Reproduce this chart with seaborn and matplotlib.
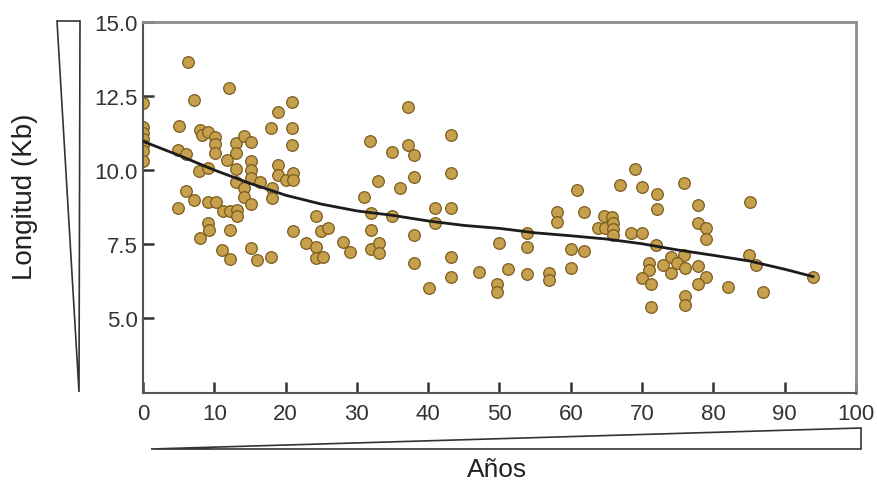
import matplotlib
matplotlib.use("Agg")
import matplotlib.pyplot as plt
import seaborn as sns
import pandas as pd
from matplotlib.patches import Polygon

# ---- data ----
years = [
    0, 0, 0, 0, 0, 0, 0,
    5.0, 4.9, 6.1, 6.1, 7.2, 4.9, 6.3, 7.1, 12.1,
    8.0, 8.3, 9.1, 10.1, 10.1, 10.1, 7.9, 9.1,
    11.8, 13.1, 14.2, 15.2, 13.1, 13.1, 15.2, 15.2, 15.2, 16.4, 13.1, 14.2, 14.2, 15.2,
    9.1, 10.3, 11.2, 12.2, 13.2, 13.2, 9.1, 9.2, 7.95, 12.2,
    11.1, 12.2, 15.2, 16.0, 18.0,
    18.0, 19.0, 20.9, 20.9, 20.9, 19.0, 19.0, 20.1, 21.0, 21.0, 18.1, 18.1, 21.0,
    22.8, 24.2, 24.2, 24.2, 25.2, 24.9, 26.0, 28.1, 29.1,
    31.9, 33.0, 31.0, 32.0, 32.0, 32.0, 33.1, 33.1,
    37.1, 43.2, 34.9, 37.1, 38.0, 36.0, 38.0, 43.2, 34.9, 41.0, 43.2, 41.0, 38.0, 38.0,
    43.2, 43.2, 40.1, 47.1, 49.6, 49.6, 50.0,
    51.2, 53.9, 53.9, 53.9, 56.9, 56.9, 58.1, 58.1, 60.0, 60.0, 60.9, 61.9, 61.9,
    63.8, 64.7, 65.8, 64.8, 65.9, 65.9, 65.9, 66.9,
    68.5, 70.0, 69.0, 70.0, 72.1, 72.1, 75.9, 77.9, 77.9, 78.9, 78.9,
    72.0, 74.0, 75.9, 70.9, 70.9, 72.9, 74.0, 74.9, 76.0, 77.9, 79.0, 70.0, 71.2, 77.9,
    82.0, 71.2, 76.0, 76.0,
    85.1, 85.0, 86.0, 87.0, 94.0,
]
lengths = [
    12.25, 11.45, 11.25, 11.05, 10.85, 10.65, 10.3,
    11.5, 10.68, 10.53, 9.29, 8.99, 8.73, 13.66, 12.38, 12.76,
    11.35, 11.2, 11.27, 11.1, 10.87, 10.56, 9.97, 10.08,
    10.34, 10.9, 11.16, 10.96, 10.56, 10.03, 10.3, 10.0, 9.72, 9.6, 9.6, 9.38, 9.1, 8.87,
    8.93, 8.93, 8.61, 8.61, 8.65, 8.46, 8.2, 7.97, 7.71, 7.97,
    7.3, 7.0, 7.38, 6.96, 7.07,
    11.43, 11.95, 12.29, 11.43, 10.84, 10.17, 9.83, 9.66, 9.89, 9.66, 9.38, 9.04, 7.94,
    7.52, 8.46, 7.41, 7.02, 7.07, 7.94, 8.05, 7.58, 7.22,
    10.98, 9.63, 9.1, 8.54, 7.97, 7.35, 7.52, 7.19,
    12.14, 11.2, 10.62, 10.84, 10.51, 9.38, 9.77, 9.89, 8.46, 8.71, 8.73, 8.22, 7.8, 6.85,
    7.07, 6.4, 6.0, 6.54, 6.14, 5.87, 7.54,
    6.66, 7.86, 7.41, 6.48, 6.52, 6.27, 8.59, 8.25, 7.35, 6.7, 9.32, 8.59, 7.26,
    8.03, 8.45, 8.4, 8.05, 8.2, 8.02, 7.8, 9.49,
    7.86, 7.86, 10.03, 9.44, 9.18, 8.68, 9.55, 8.82, 8.2, 8.05, 7.67,
    7.47, 7.07, 7.13, 6.85, 6.62, 6.79, 6.51, 6.85, 6.7, 6.77, 6.4, 6.36, 6.14, 6.14,
    6.06, 5.39, 5.75, 5.44,
    8.93, 7.13, 6.79, 5.87, 6.4,
]
trend_x = [0, 5, 10, 15, 20, 25, 30, 35, 40, 45, 50, 55, 60, 65, 70, 75, 80, 85, 90, 94]
trend_y = [10.97, 10.5, 10.0, 9.55, 9.15, 8.85, 8.62, 8.47, 8.28, 8.13, 8.03, 7.88,
           7.78, 7.67, 7.51, 7.3, 7.12, 6.93, 6.65, 6.4]
x_ticks = [0, 10, 20, 30, 40, 50, 60, 70, 80, 90, 100]
y_ticks = [5.0, 7.5, 10.0, 12.5, 15.0]
x_label = "Años"
y_label = "Longitud (Kb)"

pts = pd.DataFrame({"x": years, "y": lengths})
trend = pd.DataFrame({"x": trend_x, "y": trend_y})

sns.set_style("ticks")
plt.rcParams["font.family"] = ["Liberation Sans", "DejaVu Sans"]

W, H = 878, 485
fig = plt.figure(figsize=(W / 100, H / 100), dpi=100)
L, R, T, B = 143, 856, 23, 394
ax = fig.add_axes([L / W, 1 - B / H, (R - L) / W, (B - T) / H])

sns.scatterplot(data=pts, x="x", y="y", ax=ax, s=70, color="#C6A04C",
                edgecolor="#7A5C1E", linewidth=0.9, zorder=2, legend=False)
sns.lineplot(data=trend, x="x", y="y", ax=ax, color="#1c1c1c", linewidth=2.0,
             zorder=3, legend=False)

ax.set_xlim(0, 100)
ax.set_ylim(2.47, 15.0)
ax.set_xticks(x_ticks)
ax.set_yticks(y_ticks)
ax.set_xticklabels([str(t) for t in x_ticks])
ax.set_yticklabels([f"{t:.1f}" for t in y_ticks])
ax.set_xlabel("")
ax.set_ylabel("")
for side in ["left", "bottom"]:
    ax.spines[side].set_color("#555555")
    ax.spines[side].set_linewidth(1.5)
for side in ["top", "right"]:
    ax.spines[side].set_color("#8c8c8c")
    ax.spines[side].set_linewidth(2.0)
    ax.spines[side].set_visible(True)

ax.tick_params(axis="x", direction="in", length=8, width=1.8, color="#333333",
               labelsize=16, labelcolor="#333333", pad=7, bottom=True, top=False)
ax.tick_params(axis="y", direction="in", length=8, width=1.8, color="#333333",
               labelsize=16, labelcolor="#333333", pad=4, left=True, right=False)

def fp(px, py):
    return (px / W, 1 - py / H)

# wedges
left_wedge = Polygon([fp(57, 22), fp(80, 22), fp(79, 393)], closed=True,
                     transform=fig.transFigure, facecolor="white",
                     edgecolor="#333333", linewidth=1.2)
bottom_wedge = Polygon([fp(151, 450), fp(861, 450), fp(861, 429)], closed=True,
                       transform=fig.transFigure, facecolor="white",
                       edgecolor="#333333", linewidth=1.2)
fig.add_artist(left_wedge)
fig.add_artist(bottom_wedge)

fig.text(*fp(497, 470), x_label, ha="center", va="center", fontsize=19, color="#222222")
fig.text(*fp(25, 197), y_label, ha="center", va="center", rotation=90,
         fontsize=20, color="#222222")

fig.savefig("out.png", dpi=100)
